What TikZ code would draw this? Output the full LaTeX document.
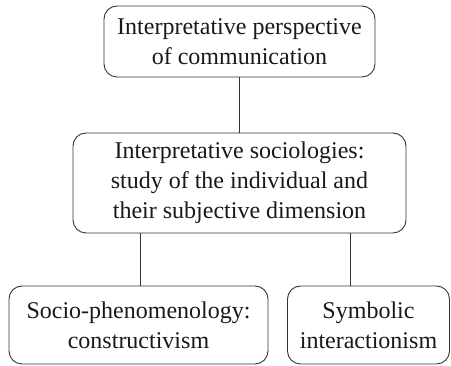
\documentclass[tikz,border=0pt]{standalone}
\usepackage{fontspec}
\setmainfont{Liberation Serif}
\begin{document}
\begin{tikzpicture}[x=1pt,y=1pt,
  box/.style={draw=black!80, line width=0.9pt, rounded corners=13pt, align=center, inner sep=0pt,
    font=\fontsize{24}{30}\selectfont, text=black!90},
  link/.style={draw=black!80, line width=0.9pt}]
\useasboundingbox (0,0) rectangle (451,366);
\node[box, minimum width=271, minimum height=71] (top) at (239.5,324.5) {Interpretative perspective\\of communication};
\node[box, minimum width=333, minimum height=100] (mid) at (239.5,183) {Interpretative sociologies:\\study of the individual and\\their subjective dimension};
\node[box, minimum width=259, minimum height=78] (bl) at (138.5,41) {Socio-phenomenology:\\constructivism};
\node[box, minimum width=162, minimum height=78] (br) at (368.5,41) {Symbolic\\interactionism};
\draw[link] (top.south) -- (mid.north);
\draw[link] ([xshift=1.5pt]bl.north) -- ([xshift=1.5pt]bl.north |- mid.south);
\draw[link] ([xshift=-18.5pt]br.north) -- ([xshift=-18.5pt]br.north |- mid.south);
\end{tikzpicture}
\end{document}
